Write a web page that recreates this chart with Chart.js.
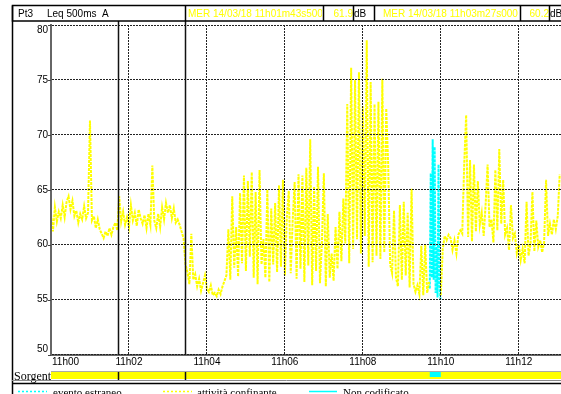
<!DOCTYPE html>
<html>
<head>
<meta charset="utf-8">
<script src="https://cdn.jsdelivr.net/npm/chart.js@4.4.1/dist/chart.umd.min.js"></script>
<style>
  html, body { margin: 0; padding: 0; background: #fff; }
</style>
</head>
<body>
<canvas id="chart" width="561" height="394"></canvas>
<script>
// Leq 500ms A, one value every 3 s from 11h00
const startSec = 0;
const stepSec = 3;
const leqA = [
  62.8, 61.2, 63.4, 62.1, 63.0, 62.4, 63.6, 62.5, 63.9, 64.4,
  63.2, 64.0, 62.6, 63.1, 62.0, 62.8, 62.3, 63.5, 62.4, 62.9,
  71.3, 62.2, 62.6, 61.5, 62.3, 61.4, 61.0, 60.6, 61.2, 60.8,
  61.5, 60.9, 61.6, 62.0, 61.3, 64.4, 62.1, 63.0, 61.8, 62.5,
  61.6, 63.6, 62.2, 62.9, 61.7, 63.2, 62.4, 61.9, 62.7, 61.5,
  62.8, 61.8, 67.2, 62.2, 61.5, 62.8, 61.6, 63.4, 62.3, 63.8,
  62.9, 63.6, 62.4, 63.3, 62.0, 62.3, 61.8, 61.2, 60.6, 58.2,
  57.5, 56.4, 61.0, 56.8, 57.3, 56.2, 56.9, 55.8, 56.5, 57.2,
  56.0, 55.7, 56.3, 55.4, 55.6, 55.3, 55.9, 55.5, 56.2, 56.7,
  57.2, 61.4, 56.8, 64.4, 57.9, 61.6, 57.1, 64.7, 58.3, 66.3,
  57.6, 65.8, 58.9, 66.6, 57.0, 64.8, 56.4, 66.8, 58.2, 60.5,
  57.0, 65.0, 56.6, 63.3, 58.2, 63.8, 57.5, 65.4, 58.0, 65.9,
  57.2, 62.5, 64.9, 57.4, 62.2, 65.7, 56.9, 66.4, 57.8, 66.3,
  56.6, 67.0, 58.1, 69.6, 56.3, 65.3, 57.6, 67.1, 56.5, 60.2,
  66.5, 56.2, 62.8, 57.0, 59.2, 56.7, 61.6, 57.8, 63.0, 58.5,
  64.2, 60.1, 72.8, 58.3, 76.1, 59.6, 75.0, 60.5, 75.7, 59.2,
  72.6, 60.8, 78.6, 58.0, 74.8, 58.4, 72.8, 59.0, 73.0, 58.7,
  75.1, 59.3, 72.4, 67.3, 58.2, 57.4, 63.1, 57.0, 56.2, 63.6,
  56.8, 63.9, 57.2, 62.9, 56.1, 65.1, 56.4, 55.7, 56.3, 55.5,
  59.9, 55.4, 60.0, 55.6, 56.6, null, null, null, null, null,
  55.4, 59.6, 60.8, 60.4, 60.9, 60.6, 59.5, 60.4, 59.2, 60.9,
  61.3, 61.0, 67.3, 71.8, 60.7, 67.7, 60.3, 67.3, 61.2, 65.8,
  61.8, 62.9, 60.8, 63.7, 67.3, 61.6, 62.3, 60.2, 66.8, 61.3,
  68.7, 61.9, 65.9, 60.9, 61.5, 59.5, 63.6, 60.6, 61.0, 59.2,
  60.0, 58.6, 59.6, 58.3, 63.9, 59.0, 60.0, 64.8, 59.4, 62.2,
  59.8, 60.4, 59.3, 60.2, 65.9, 60.8, 61.9, 60.9, 62.3, 61.4,
  62.6, 66.4
];

// evento estraneo (cyan), one value every 1.5 s
const estraneoStartSec = 583;
const estraneoStepSec = 1.5;
const eventoEstraneo = [56.0, 66.5, 57.0, 69.6, 56.8, 68.9, 55.6, 59.8, 55.2, 67.3, 56.5, 55.0];

const xTickSec = [0, 120, 240, 360, 480, 600, 720];
const xTickLabels = ["11h00", "11h02", "11h04", "11h06", "11h08", "11h10", "11h12"];
const yTickValues = [50, 55, 60, 65, 70, 75, 80];

const cursorSec = [103.5, 207];
const cursorLabels = ["MER 14/03/18 11h01m43s500", "MER 14/03/18 11h03m27s000"];
const cursorLeq = ["61.9", "60.2"];
const sorgenteEstraneo = [583, 600];
const legendLabels = ["evento estraneo", "attività confinante", "Non codificato"];

const SANS = '10px "Liberation Sans", Arial, sans-serif';
const SERIF = '"Liberation Serif", "Times New Roman", serif';

function clippedText(c, text, x0, x1, tx, ty, color, align) {
  c.save();
  c.beginPath();
  c.rect(x0, 0, x1 - x0, 30);
  c.clip();
  c.fillStyle = color;
  c.textAlign = align || 'left';
  c.fillText(text, tx, ty);
  c.restore();
}

const chrome = {
  id: 'chrome',
  beforeDraw(chart) {
    const c = chart.ctx;
    c.save();
    c.fillStyle = '#fff';
    c.fillRect(0, 0, chart.width, chart.height);
    c.restore();
  },
  afterDraw(chart) {
    const c = chart.ctx;
    const a = chart.chartArea;
    const xs = chart.scales.x, ys = chart.scales.y;
    c.save();

    // y labels + small ticks
    c.font = SANS;
    c.fillStyle = '#000';
    c.strokeStyle = '#444';
    c.lineWidth = 1;
    c.textAlign = 'right';
    yTickValues.forEach(v => {
      const py = ys.getPixelForValue(v);
      c.beginPath();
      c.moveTo(a.left - 3, Math.round(py) + 0.5);
      c.lineTo(a.left, Math.round(py) + 0.5);
      c.stroke();
      c.textBaseline = v === ys.max ? 'top' : (v === ys.min ? 'bottom' : 'middle');
      c.fillText(String(v), a.left - 3, py);
    });

    // x labels
    c.textBaseline = 'middle';
    xTickSec.forEach((s, i) => {
      const px = xs.getPixelForValue(s);
      c.textAlign = i === 0 ? 'left' : 'center';
      c.fillText(xTickLabels[i], i === 0 ? px + 1 : px, a.bottom + 8);
    });

    // cursor lines
    c.strokeStyle = '#111';
    c.lineWidth = 1.5;
    cursorSec.forEach(s => {
      const px = Math.round(xs.getPixelForValue(s)) + 0.5;
      c.beginPath();
      c.moveTo(px, 21);
      c.lineTo(px, a.bottom);
      c.stroke();
    });

    // header
    c.font = SANS;
    c.textBaseline = 'middle';
    const hy = 14;
    c.fillStyle = '#000';
    c.textAlign = 'left';
    c.fillText('Pt3', 18, hy);
    c.fillText('Leq 500ms', 47, hy);
    c.fillText('A', 102, hy);
    clippedText(c, cursorLabels[0], 185, 322, 188, hy, '#ffff00');
    clippedText(c, cursorLeq[0], 323, 353, 353, hy, '#ffff00', 'right');
    clippedText(c, 'dB', 353, 373, 354, hy, '#000');
    clippedText(c, cursorLabels[1], 374, 519, 383, hy, '#ffff00');
    clippedText(c, cursorLeq[1], 520, 549, 549, hy, '#ffff00', 'right');
    clippedText(c, 'dB', 549, 561, 550, hy, '#000');
    c.strokeStyle = '#000';
    c.lineWidth = 1.5;
    c.strokeRect(12.5, 5.5, 560, 15.5);
    [185, 323, 353, 374, 520, 549].forEach(x => {
      c.beginPath();
      c.moveTo(x + 0.5, 5.5);
      c.lineTo(x + 0.5, 21);
      c.stroke();
    });

    // outer left frame
    c.lineWidth = 1.5;
    c.beginPath();
    c.moveTo(12.5, 5.5);
    c.lineTo(12.5, 394);
    c.stroke();

    // Sorgente bar
    c.save();
    c.beginPath();
    c.rect(13, 360, a.left - 13, 30);
    c.clip();
    c.font = '12px ' + SERIF;
    c.fillStyle = '#000';
    c.textAlign = 'left';
    c.textBaseline = 'alphabetic';
    c.fillText('Sorgente', 14, 380);
    c.restore();

    const bx0 = xs.getPixelForValue(xs.min);
    c.fillStyle = '#ffff00';
    c.fillRect(bx0, 372, a.right - bx0, 7);
    c.fillStyle = '#00ffff';
    const cx0 = xs.getPixelForValue(sorgenteEstraneo[0]);
    const cx1 = xs.getPixelForValue(sorgenteEstraneo[1]);
    c.fillRect(cx0, 372, cx1 - cx0, 5);
    c.strokeStyle = '#aaa';
    c.lineWidth = 1;
    c.beginPath();
    c.moveTo(bx0, 371.5);
    c.lineTo(a.right, 371.5);
    c.stroke();
    c.strokeStyle = '#111';
    c.lineWidth = 1.5;
    cursorSec.forEach(s => {
      const px = Math.round(xs.getPixelForValue(s)) + 0.5;
      c.beginPath();
      c.moveTo(px, 372);
      c.lineTo(px, 380);
      c.stroke();
    });

    // legend box top
    c.strokeStyle = '#888';
    c.lineWidth = 1;
    c.beginPath();
    c.moveTo(12, 380.5);
    c.lineTo(561, 380.5);
    c.stroke();
    c.strokeStyle = '#000';
    c.lineWidth = 1.5;
    c.beginPath();
    c.moveTo(12, 383.5);
    c.lineTo(561, 383.5);
    c.stroke();

    // legend entries
    const items = [
      { x0: 18, x1: 47, tx: 53, color: '#00ffff', dash: [2, 2] },
      { x0: 163, x1: 192, tx: 197, color: '#ffff00', dash: [2, 2] },
      { x0: 309, x1: 337, tx: 343, color: '#00ffff', dash: [] }
    ];
    c.font = '11px ' + SERIF;
    c.textAlign = 'left';
    c.textBaseline = 'alphabetic';
    items.forEach((it, i) => {
      c.strokeStyle = it.color;
      c.lineWidth = 1.5;
      c.setLineDash(it.dash);
      c.beginPath();
      c.moveTo(it.x0, 391.5);
      c.lineTo(it.x1, 391.5);
      c.stroke();
      c.setLineDash([]);
      c.fillStyle = '#000';
      c.fillText(legendLabels[i], it.tx, 396);
    });

    c.restore();
  }
};

const ctx = document.getElementById('chart').getContext('2d');
new Chart(ctx, {
  type: 'line',
  data: {
    datasets: [
      {
        label: legendLabels[1],
        data: leqA.map((v, i) => ({ x: startSec + i * stepSec, y: v })),
        borderColor: '#ffff00',
        borderWidth: 2,
        borderDash: [3, 1],
        pointRadius: 0,
        tension: 0,
        spanGaps: false
      },
      {
        label: legendLabels[0],
        data: eventoEstraneo.map((v, i) => ({ x: estraneoStartSec + i * estraneoStepSec, y: v })),
        borderColor: '#00ffff',
        borderWidth: 2,
        borderDash: [3, 1],
        pointRadius: 0,
        tension: 0
      }
    ]
  },
  options: {
    responsive: false,
    animation: false,
    layout: { padding: { left: 51, top: 25, right: 0, bottom: 39.5 } },
    plugins: { legend: { display: false }, tooltip: { enabled: false } },
    scales: {
      x: {
        type: 'linear',
        min: 0,
        max: 785,
        afterBuildTicks: s => { s.ticks = xTickSec.map(v => ({ value: v })); },
        ticks: { display: false },
        grid: { color: '#222', lineWidth: 1, drawTicks: false, z: 1 },
        border: { display: true, color: '#666', width: 2, dash: [2, 1], z: 1 }
      },
      y: {
        min: 50,
        max: 80,
        afterBuildTicks: s => { s.ticks = yTickValues.map(v => ({ value: v })); },
        ticks: { display: false },
        grid: { color: '#222', lineWidth: 1, drawTicks: false, z: 1 },
        border: { display: true, color: '#666', width: 2, dash: [2, 1], z: 1 }
      }
    }
  },
  plugins: [chrome]
});
</script>
</body>
</html>
